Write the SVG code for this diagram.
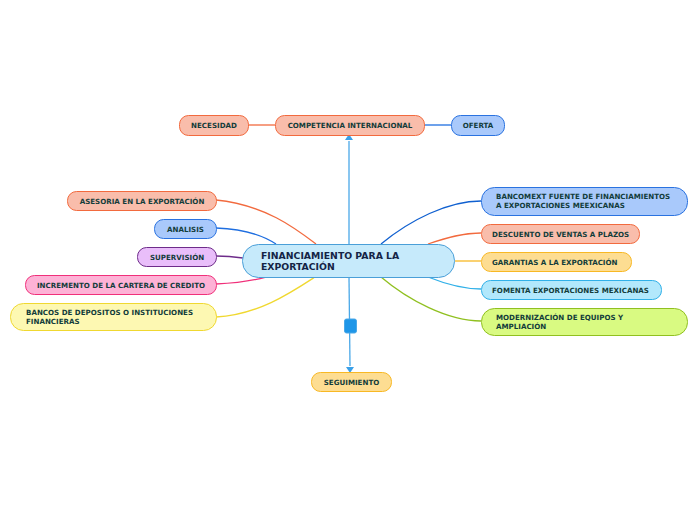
<svg xmlns="http://www.w3.org/2000/svg" width="696" height="520" viewBox="0 0 696 520">
<defs>
<style>
text{font-family:"DejaVu Sans",Verdana,sans-serif;font-weight:bold;font-size:7.1px;fill:#123c3a}
.c{text-anchor:middle}
.t{font-size:9.3px;fill:#142446}
.ln{fill:none;stroke-width:1.3}
.salmon{fill:#f9bdab;stroke:#f26a3e}
.blue{fill:#a9c9fb;stroke:#2a72e0}
.purple{fill:#e9befa;stroke:#6e2c8a}
.pink{fill:#fdb2d6;stroke:#f0307a}
.yellow{fill:#fdf8b2;stroke:#f0d830}
.gold{fill:#fddd92;stroke:#f8b824}
.sky{fill:#b2e8fc;stroke:#30b0e8}
.green{fill:#d9fa82;stroke:#90c020}
rect{stroke-width:1}
</style>
</defs>
<rect width="696" height="520" fill="#ffffff"/>
<g id="connectors">
<path class="ln" d="M349,244 L349,141" stroke="#4aa8e8"/>
<path d="M345,140 L353,140 L349,134 Z" fill="#3aa0e8"/>
<path class="ln" d="M349,277 L350,366" stroke="#4aa8e8"/>
<path d="M346,367 L354,367 L350,373 Z" fill="#3aa0e8"/>
<rect x="344.5" y="319" width="12" height="14" rx="2" fill="#1e96e8" stroke="#4aa8e8"/>
<path class="ln" d="M248,125 L275,125" stroke="#f26a3e"/>
<path class="ln" d="M424,125 L451,125" stroke="#1e6ee0"/>
<path class="ln" d="M216,200 C265,205 295,228 316,244" stroke="#f26a3e"/>
<path class="ln" d="M216,228 C245,229 264,236 276,244" stroke="#1e6ee0"/>
<path class="ln" d="M216,256 C228,256 236,257 243,258" stroke="#6e2c8a"/>
<path class="ln" d="M216,284 C238,283 252,281 266,277" stroke="#f0307a"/>
<path class="ln" d="M216,317 C258,315 292,292 315,277" stroke="#f0d830"/>
<path class="ln" d="M381,244 C410,220 448,201 481,201" stroke="#1060d0"/>
<path class="ln" d="M428,244 C448,237 463,233 481,233" stroke="#f26a3e"/>
<path class="ln" d="M455,261 L481,261" stroke="#f8b824"/>
<path class="ln" d="M428,277 C448,285 463,289 481,289" stroke="#30b0e8"/>
<path class="ln" d="M381,277 C408,300 448,321 481,321" stroke="#90c020"/>
</g>
<g id="central">
<rect x="242.5" y="244.5" width="212" height="33" rx="16" fill="#c6eafb" stroke="#4a9fd8"/>
<text class="t" x="261" y="259">FINANCIAMIENTO PARA LA</text>
<text class="t" x="261" y="270">EXPORTACIÓN</text>
</g>
<g id="competencia">
<rect class="salmon" x="275.5" y="115.5" width="149" height="20" rx="9"/>
<text class="c" x="350" y="128">COMPETENCIA INTERNACIONAL</text>
</g>
<g id="necesidad">
<rect class="salmon" x="179.5" y="115.5" width="69" height="20" rx="9"/>
<text class="c" x="214" y="128">NECESIDAD</text>
</g>
<g id="oferta">
<rect class="blue" x="451.5" y="115.5" width="53" height="20" rx="9"/>
<text class="c" x="478" y="128">OFERTA</text>
</g>
<g id="asesoria">
<rect class="salmon" x="67.5" y="191.5" width="149" height="19" rx="9"/>
<text class="c" x="142" y="203.5">ASESORIA EN LA EXPORTACIÓN</text>
</g>
<g id="analisis">
<rect class="blue" x="154.5" y="219.5" width="62" height="19" rx="9"/>
<text class="c" x="185.5" y="231.5">ANALISIS</text>
</g>
<g id="supervision">
<rect class="purple" x="137.5" y="247.5" width="79" height="19" rx="9"/>
<text class="c" x="177" y="259.5">SUPERVISIÓN</text>
</g>
<g id="incremento">
<rect class="pink" x="25.5" y="275.5" width="191" height="19" rx="9"/>
<text class="c" x="121" y="287.5">INCREMENTO DE LA CARTERA DE CREDITO</text>
</g>
<g id="bancos">
<rect class="yellow" x="10.5" y="303.5" width="206" height="27" rx="13"/>
<text x="26" y="315">BANCOS DE DEPOSITOS O INSTITUCIONES</text>
<text x="26" y="324">FINANCIERAS</text>
</g>
<g id="bancomext">
<rect class="blue" x="481.5" y="187.5" width="206" height="28" rx="13"/>
<text x="496" y="199">BANCOMEXT FUENTE DE FINANCIAMIENTOS</text>
<text x="496" y="208">A EXPORTACIONES MEEXICANAS</text>
</g>
<g id="descuento">
<rect class="salmon" x="481.5" y="224.5" width="158" height="19" rx="9"/>
<text x="492" y="236.5">DESCUENTO DE VENTAS A PLAZOS</text>
</g>
<g id="garantias">
<rect class="gold" x="481.5" y="252.5" width="150" height="19" rx="9"/>
<text x="492" y="264.5">GARANTIAS A LA EXPORTACIÓN</text>
</g>
<g id="fomenta">
<rect class="sky" x="481.5" y="280.5" width="180" height="19" rx="9"/>
<text x="492" y="292.5">FOMENTA EXPORTACIONES MEXICANAS</text>
</g>
<g id="modernizacion">
<rect class="green" x="481.5" y="308.5" width="206" height="27" rx="13"/>
<text x="496" y="320">MODERNIZACIÓN DE EQUIPOS Y</text>
<text x="496" y="329">AMPLIACIÓN</text>
</g>
<g id="seguimiento">
<rect class="gold" x="311.5" y="372.5" width="80" height="19" rx="9"/>
<text class="c" x="351.5" y="384.5">SEGUIMIENTO</text>
</g>
</svg>
